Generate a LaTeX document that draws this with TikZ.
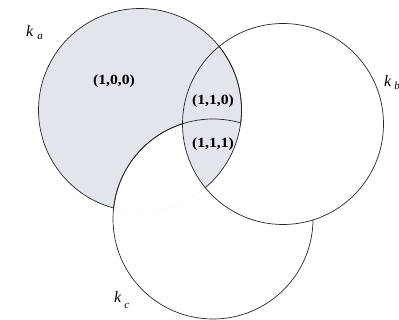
\documentclass[tikz,border=0pt]{standalone}
\usepackage{fontspec}
\usepackage{graphicx}
\setmainfont{Liberation Serif}
\definecolor{venngray}{RGB}{226,229,236}
\begin{document}
\begin{tikzpicture}[x=1pt,y=-1pt,
  outline/.style={draw=black!85, line width=0.7pt},
  region/.style={font=\fontsize{14}{16}\selectfont\bfseries, inner sep=0pt},
  setname/.style={font=\fontsize{16}{18}\selectfont\itshape, inner sep=0pt, anchor=base west}]
\useasboundingbox (0,0) rectangle (399,320);
\coordinate (A) at (140,110);
\coordinate (B) at (283,124);
\coordinate (C) at (213,219);
\def\ra{101.5pt}\def\rb{100.5pt}\def\rc{100pt}
% fills
\fill[venngray] (A) circle[radius=\ra];
\begin{scope}
  \clip (A) circle[radius=\ra];
  \fill[white] (C) circle[radius=\rc];
\end{scope}
\begin{scope}
  \clip (A) circle[radius=\ra];
  \clip (B) circle[radius=\rb];
  \fill[venngray] (C) circle[radius=\rc];
\end{scope}
% outlines
\draw[outline] (B) circle[radius=\rb];
\begin{scope}[even odd rule]
  \clip (-50,-50) rectangle (450,370) (C) circle[radius=\rc];
  \draw[outline] (A) circle[radius=\ra];
\end{scope}
\begin{scope}
  \clip (B) circle[radius=\rb];
  \draw[outline] (A) circle[radius=\ra];
\end{scope}
\begin{scope}[even odd rule]
  \clip (-50,-50) rectangle (450,370) (B) circle[radius=\rb];
  \draw[outline] (C) circle[radius=\rc];
\end{scope}
\begin{scope}
  \clip (A) circle[radius=\ra];
  \draw[outline] (C) circle[radius=\rc];
\end{scope}
% region labels
\node[region] (l100) at (114,81.5) {\scalebox{1.12}[1]{(1,0,0)}};
\node[region] (l110) at (213,101) {\scalebox{1.12}[1]{(1,1,0)}};
\node[region] (l111) at (213,144) {\scalebox{1.12}[1]{(1,1,1)}};
% set names
\node[setname] (ka) at (26,37) {k\hspace{4pt}\raisebox{-3pt}{\fontsize{11}{12}\selectfont a}};
\node[setname] (kb) at (384,87) {k\hspace{3pt}\raisebox{-3pt}{\fontsize{11}{12}\selectfont b}};
\node[setname] (kc) at (114,303) {k\hspace{3pt}\raisebox{-6pt}{\fontsize{11}{12}\selectfont c}};
\end{tikzpicture}
\end{document}
